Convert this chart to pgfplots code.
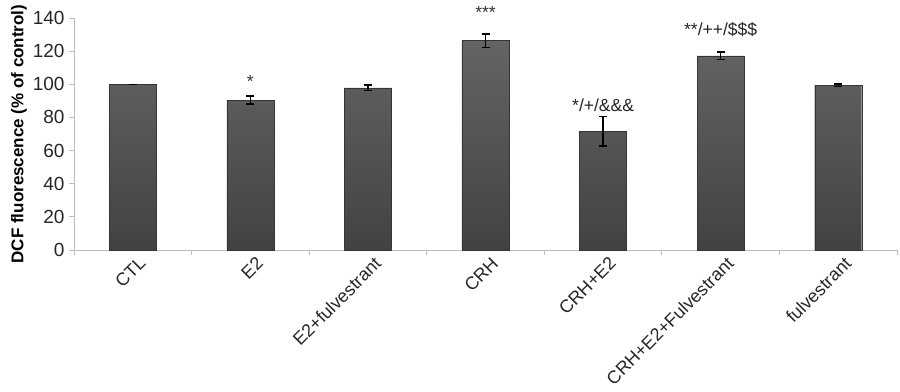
\documentclass[border=0pt]{standalone}
\usepackage{pgfplots}
\pgfplotsset{compat=1.18}
\usepackage{fontspec}
\setmainfont{Liberation Sans}
\definecolor{axgray}{HTML}{BDBDBD}
\definecolor{bartop}{HTML}{646464}
\definecolor{barbot}{HTML}{424242}
\begin{document}
\begin{tikzpicture}
\begin{axis}[
  scale only axis,
  width=823pt, height=232pt,
  xmin=-0.5, xmax=6.5,
  ymin=0, ymax=140,
  ytick={0,20,...,140},
  xtick={0,...,6},
  xticklabels={CTL,E2,E2+fulvestrant,CRH,CRH+E2,CRH+E2+Fulvestrant,fulvestrant},
  minor xtick={-0.5,0.5,...,6.5},
  major x tick style={draw=none},
  minor tick length=5pt,
  major tick length=5pt,
  tick align=outside,
  axis x line*=bottom, axis y line*=left,
  axis line style={axgray, line width=0.8pt},
  tick style={axgray, line width=0.8pt},
  /pgf/number format/assume math mode=true,
  yticklabel style={xshift=-1pt, font=\fontsize{19}{21}\selectfont, text=black!85},
  xticklabel style={font=\fontsize{18}{20}\selectfont, text=black!85, rotate=45, anchor=north east, inner sep=1pt, xshift=4pt, yshift=-3pt},
  ylabel={DCF fluorescence (\% of control)},
  ylabel style={font=\bfseries\fontsize{17}{19}\selectfont, yshift=-1pt},
  clip=false,
  ybar, bar width=0.4,
]
\addplot[draw=barbot!80!black, line width=0.3pt, top color=bartop, bottom color=barbot,
  error bars/.cd, y dir=both, y explicit,
  error bar style={black, line width=1.3pt},
  error mark options={rotate=90, mark size=4pt, black, line width=1.3pt}]
  coordinates {
  (0,100) +- (0,0)
  (1,90.5) +- (0,2.4)
  (2,97.9) +- (0,1.6)
  (3,126.4) +- (0,4.0)
  (4,71.6) +- (0,8.9)
  (5,117.2) +- (0,2.3)
  (6,99.3) +- (0,0.8)
  };
\node[anchor=base, font=\fontsize{17.5}{19}\selectfont, text=black!80] at (axis cs:1,98) {*};
\node[anchor=base, font=\fontsize{17.5}{19}\selectfont, text=black!80] at (axis cs:3,140) {***};
\node[anchor=base, font=\fontsize{17.5}{19}\selectfont, text=black!85] at (axis cs:4,83.3) {*/+/\&\&\&};
\node[anchor=base, font=\fontsize{17.5}{19}\selectfont, text=black!85] at (axis cs:5,129.7) {**/++/\$\$\$};
\end{axis}
\pgfresetboundingbox
\path ([xshift=-74pt,yshift=-141pt]current axis.south west) rectangle ([xshift=3pt,yshift=18pt]current axis.north east);
\end{tikzpicture}
\end{document}
